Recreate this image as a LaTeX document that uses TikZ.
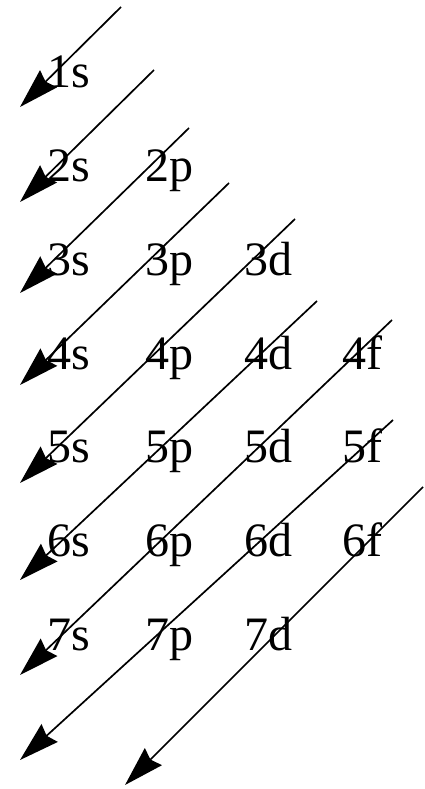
\documentclass[tikz,border=0pt]{standalone}
\usepackage{fontspec}
\setmainfont{Liberation Serif}
\usepackage{tikz}
\usetikzlibrary{arrows.meta, positioning}

\begin{document}
\begin{tikzpicture}[
  x=1pt, y=-1pt,
  node distance=47.3pt and 46pt,
  orb/.style={inner sep=0pt, text height=34pt, text depth=12pt,
              text width=52pt, align=left,
              font=\fontsize{48}{50}\selectfont},
  arr/.style={-{Stealth[length=40pt, width=24pt, inset=4pt]},
              line width=1.7pt, black},
]
\useasboundingbox (0,0) rectangle (425,789);

%% Orbital labels (one row per shell)
\node[orb, anchor=base west] (n1s) at (47,88) {1s};

\node[orb, below=of n1s] (n2s) {2s};
\node[orb, right=of n2s] (n2p) {2p};

\node[orb, below=of n2s] (n3s) {3s};
\node[orb, right=of n3s] (n3p) {3p};
\node[orb, right=of n3p] (n3d) {3d};

\node[orb, below=of n3s] (n4s) {4s};
\node[orb, right=of n4s] (n4p) {4p};
\node[orb, right=of n4p] (n4d) {4d};
\node[orb, right=of n4d] (n4f) {4f};

\node[orb, below=of n4s] (n5s) {5s};
\node[orb, right=of n5s] (n5p) {5p};
\node[orb, right=of n5p] (n5d) {5d};
\node[orb, right=of n5d] (n5f) {5f};

\node[orb, below=of n5s] (n6s) {6s};
\node[orb, right=of n6s] (n6p) {6p};
\node[orb, right=of n6p] (n6d) {6d};
\node[orb, right=of n6d] (n6f) {6f};

\node[orb, below=of n6s] (n7s) {7s};
\node[orb, right=of n7s] (n7p) {7p};
\node[orb, right=of n7p] (n7d) {7d};

%% Filling order arrows (tail and head ends)
\coordinate (t1) at (121,7);   \coordinate (h1) at (20,107);
\coordinate (t2) at (154,70);  \coordinate (h2) at (20,202);
\coordinate (t3) at (189,128); \coordinate (h3) at (20,293);
\coordinate (t4) at (229,183); \coordinate (h4) at (20,385);
\coordinate (t5) at (295,219); \coordinate (h5) at (20,483);
\coordinate (t6) at (317,301); \coordinate (h6) at (20,580);
\coordinate (t7) at (392,320); \coordinate (h7) at (20,675);
\coordinate (t8) at (393,420); \coordinate (h8) at (20,760);
\coordinate (t9) at (423,487); \coordinate (h9) at (125,785);

\draw[arr] (t1) -- (h1);
\draw[arr] (t2) -- (h2);
\draw[arr] (t3) -- (h3);
\draw[arr] (t4) -- (h4);
\draw[arr] (t5) -- (h5);
\draw[arr] (t6) -- (h6);
\draw[arr] (t7) -- (h7);
\draw[arr] (t8) -- (h8);
\draw[arr] (t9) -- (h9);

\end{tikzpicture}
\end{document}
